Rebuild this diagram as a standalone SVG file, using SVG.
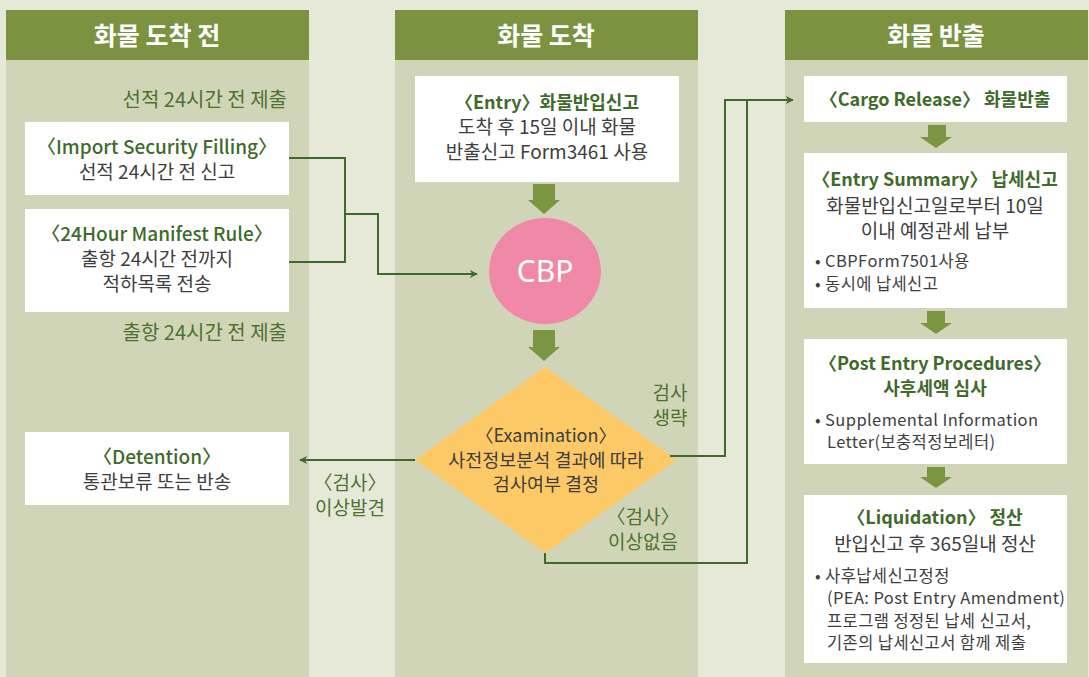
<svg xmlns="http://www.w3.org/2000/svg" width="1089" height="677" viewBox="0 0 1089 677">
<defs>
<style>
text{font-family:"Noto Sans CJK KR","Noto Sans",sans-serif;}
.hd{font-size:25px;font-weight:bold;fill:#ffffff;text-anchor:middle;}
.col{fill:#d1d5b8;}
.hdr{fill:#7b9341;}
.box{fill:#ffffff;}
.t{font-size:19px;fill:#3e3e3e;text-anchor:middle;}
.g{font-size:19px;fill:#3e6a2a;text-anchor:middle;font-weight:500;}
.gb{font-size:18px;fill:#3e6a2a;text-anchor:middle;font-weight:bold;}
.s{font-size:16.5px;letter-spacing:0.4px;fill:#3e3e3e;}
.lbl{font-size:19px;fill:#4c7232;text-anchor:middle;}
.ln{fill:none;stroke:#3d6a2a;stroke-width:2;}
.ba{fill:#7b9640;}
</style>
<marker id="ah" viewBox="0 0 10 10" refX="9" refY="5" markerWidth="8" markerHeight="8" markerUnits="userSpaceOnUse" orient="auto">
<path d="M0,0 L10,5 L0,10 L3,5 Z" fill="#3d6a2a"/>
</marker>
</defs>
<rect x="0" y="0" width="1089" height="677" fill="#e6e9d8"/>
<g id="col-before">
<rect class="col" x="6" y="60" width="303" height="617"/>
<rect class="hdr" x="6" y="10" width="303" height="50"/>
<text class="hd" x="157" y="45">화물 도착 전</text>
</g>
<g id="col-arrival">
<rect class="col" x="395" y="60" width="303" height="617"/>
<rect class="hdr" x="395" y="10" width="303" height="50"/>
<text class="hd" x="546" y="45">화물 도착</text>
</g>
<g id="col-release">
<rect class="col" x="785" y="60" width="303" height="617"/>
<rect class="hdr" x="785" y="10" width="303" height="50"/>
<text class="hd" x="936" y="45">화물 반출</text>
</g>
<g id="label-top"><text class="lbl" x="287" y="107" style="text-anchor:end;font-size:20px">선적 24시간 전 제출</text></g>
<g id="label-bottom"><text class="lbl" x="287" y="340" style="text-anchor:end;font-size:20px">출항 24시간 전 제출</text></g>
<g id="isf">
<rect class="box" x="25" y="122" width="264" height="73"/>
<text class="g" x="157" y="154">〈Import Security Filling〉</text>
<text class="t" x="157" y="179">선적 24시간 전 신고</text>
</g>
<g id="manifest">
<rect class="box" x="25" y="209" width="264" height="103"/>
<text class="g" x="157" y="241">〈24Hour Manifest Rule〉</text>
<text class="t" x="157" y="266">출항 24시간 전까지</text>
<text class="t" x="157" y="291">적하목록 전송</text>
</g>
<g id="detention">
<rect class="box" x="25" y="432" width="264" height="73"/>
<text class="g" x="157" y="464">〈Detention〉</text>
<text class="t" x="157" y="489">통관보류 또는 반송</text>
</g>
<g id="entry">
<rect class="box" x="415" y="76" width="264" height="106"/>
<text class="gb" x="547" y="109">〈Entry〉화물반입신고</text>
<text class="t" x="547" y="134">도착 후 15일 이내 화물</text>
<text class="t" x="547" y="159">반출신고 Form3461 사용</text>
</g>
<g id="cbp">
<ellipse cx="545" cy="271" rx="56" ry="53" fill="#f088a8"/>
<text x="545" y="282" style="font-family:'Noto Sans',sans-serif;font-size:30px;fill:#ffffff;text-anchor:middle">CBP</text>
</g>
<g id="exam">
<polygon points="545,367 677,460 545,553 415,460" fill="#fdc966"/>
<text class="t" x="546" y="442" style="font-size:18px">〈Examination〉</text>
<text class="t" x="546" y="467" style="font-size:18.5px">사전정보분석 결과에 따라</text>
<text class="t" x="546" y="491" style="font-size:18.5px">검사여부 결정</text>
</g>
<g id="cargo">
<rect class="box" x="804" y="76" width="263" height="46"/>
<text class="gb" x="935" y="106">〈Cargo Release〉 화물반출</text>
</g>
<g id="summary">
<rect class="box" x="804" y="153" width="263" height="155"/>
<text class="gb" x="935" y="186">〈Entry Summary〉 납세신고</text>
<text class="t" x="935" y="213">화물반입신고일로부터 10일</text>
<text class="t" x="935" y="238">이내 예정관세 납부</text>
<text class="s" x="815" y="267">• CBPForm7501사용</text>
<text class="s" x="815" y="290">• 동시에 납세신고</text>
</g>
<g id="post">
<rect class="box" x="804" y="339" width="263" height="125"/>
<text class="gb" x="935" y="370">〈Post Entry Procedures〉</text>
<text class="gb" x="935" y="395">사후세액 심사</text>
<text class="s" x="815" y="426">• Supplemental Information</text>
<text class="s" x="827" y="448">Letter(보충적정보레터)</text>
</g>
<g id="liquidation">
<rect class="box" x="804" y="495" width="263" height="168"/>
<text class="gb" x="935" y="524">〈Liquidation〉 정산</text>
<text class="t" x="935" y="551">반입신고 후 365일내 정산</text>
<text class="s" x="815" y="582">• 사후납세신고정정</text>
<text class="s" x="827" y="604">(PEA: Post Entry Amendment)</text>
<text class="s" x="827" y="627">프로그램 정정된 납세 신고서,</text>
<text class="s" x="827" y="649">기존의 납세신고서 함께 제출</text>
</g>
<g id="connectors">
<polyline class="ln" points="289,158 345,158 345,262 289,262"/>
<polyline class="ln" points="345,214 378,214 378,274 477,274" marker-end="url(#ah)"/>
<polyline class="ln" points="415,460 300,460" marker-end="url(#ah)"/>
<polyline class="ln" points="670,456 725,456 725,100 793,100" marker-end="url(#ah)"/>
<polyline class="ln" points="545,553 545,563 747,563 747,100"/>
<polygon class="ba" points="533,184 555,184 555,200 560,200 544,214 528,200 533,200"/>
<polygon class="ba" points="533,330 555,330 555,347 560,347 544,361 528,347 533,347"/>
<polygon class="ba" points="928,125 946,125 946,137 952,137 936,148 920,137 928,137"/>
<polygon class="ba" points="927,311 945,311 945,323 952,323 936,334 920,323 927,323"/>
<polygon class="ba" points="927,467 945,467 945,477 952,477 936,488 920,477 927,477"/>
<text class="lbl" x="350" y="490">〈검사〉</text>
<text class="lbl" x="350" y="515">이상발견</text>
<text class="lbl" x="670" y="400">검사</text>
<text class="lbl" x="670" y="425">생략</text>
<text class="lbl" x="643" y="524">〈검사〉</text>
<text class="lbl" x="643" y="549">이상없음</text>
</g>
</svg>
